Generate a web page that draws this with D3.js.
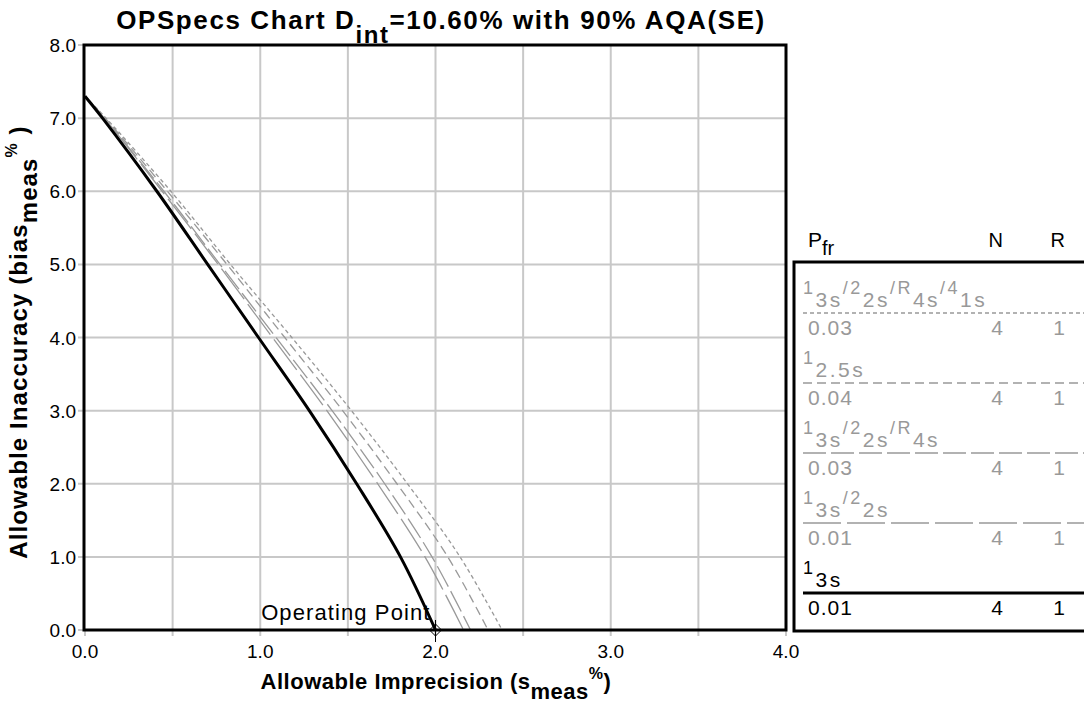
<!DOCTYPE html>
<html><head><meta charset="utf-8">
<script src="https://cdn.jsdelivr.net/npm/d3@7"></script>
<style>
html,body{margin:0;padding:0;background:#fff;}
svg{display:block;font-family:"Liberation Sans",Arial,sans-serif;}
</style></head>
<body><svg id="c" width="1084" height="707"></svg>
<script>
// ---------- data ----------
const biasLevels = [7.3, 7, 6, 5, 4, 3, 2, 1, 0];          // y values (bias %)
const rules = ["1_3s/2_2s/R_4s/4_1s", "1_2.5s", "1_3s/2_2s/R_4s", "1_3s/2_2s", "1_3s"];
const pfr = ["0.03", "0.04", "0.03", "0.01", "0.01"];
const nVals = [4, 4, 4, 4, 4];
const rVals = [1, 1, 1, 1, 1];
// allowable imprecision (s %) at each bias level, per rule
const s_13s22sR4s41s = [0, 0.12, 0.49, 0.83, 1.18, 1.52, 1.84, 2.14, 2.38];
const s_125s         = [0, 0.115, 0.47, 0.81, 1.14, 1.47, 1.78, 2.07, 2.30];
const s_13s22sR4s    = [0, 0.11, 0.45, 0.77, 1.09, 1.41, 1.71, 1.98, 2.20];
const s_13s22s       = [0, 0.11, 0.44, 0.76, 1.07, 1.38, 1.67, 1.94, 2.16];
const s_13s          = [0, 0.10, 0.41, 0.70, 0.99, 1.28, 1.55, 1.80, 2.00];
const seriesS = [s_13s22sR4s41s, s_125s, s_13s22sR4s, s_13s22s, s_13s];
const xTicks = [0, 1, 2, 3, 4];
const xTickLabels = ["0.0", "1.0", "2.0", "3.0", "4.0"];
const xGrid = [0.5, 1, 1.5, 2, 2.5, 3, 3.5];
const yTicks = [0, 1, 2, 3, 4, 5, 6, 7, 8];
const yTickLabels = ["0.0", "1.0", "2.0", "3.0", "4.0", "5.0", "6.0", "7.0", "8.0"];
const operatingPoint = [2.0, 0.0];

// ---------- styles ----------
const dashes = ["4,3", "9,5", "23,5", "38,6", null];
const colors = ["#999", "#999", "#999", "#999", "#000"];
const widths = [1.3, 1.3, 1.3, 1.3, 3];

const svg = d3.select("#c");
const L = 85, R = 786, T = 45, B = 630;
const x = d3.scaleLinear().domain([0, 4]).range([L, R]);
const y = d3.scaleLinear().domain([0, 8]).range([B, T]);

// grid
svg.append("g").selectAll("line").data(xGrid).join("line")
  .attr("x1", d => x(d)).attr("x2", d => x(d)).attr("y1", T).attr("y2", B + 6)
  .attr("stroke", "#c8c8c8").attr("stroke-width", 2);
svg.append("g").selectAll("line").data(yTicks.slice(1, 8)).join("line")
  .attr("x1", L - 7).attr("x2", R).attr("y1", d => y(d)).attr("y2", d => y(d))
  .attr("stroke", "#c8c8c8").attr("stroke-width", 2);
svg.append("g").selectAll("line").data([0, 4]).join("line")
  .attr("x1", d => x(d)).attr("x2", d => x(d)).attr("y1", B).attr("y2", B + 6)
  .attr("stroke", "#c8c8c8").attr("stroke-width", 2);
svg.append("g").selectAll("line").data([0, 8]).join("line")
  .attr("x1", L - 7).attr("x2", L).attr("y1", d => y(d)).attr("y2", d => y(d))
  .attr("stroke", "#c8c8c8").attr("stroke-width", 2);

// tick labels
svg.append("g").selectAll("text").data(xTicks).join("text")
  .attr("x", d => x(d)).attr("y", B + 28).attr("text-anchor", "middle")
  .attr("font-size", 19).attr("fill", "#000").text((d, i) => xTickLabels[i]);
svg.append("g").selectAll("text").data(yTicks).join("text")
  .attr("x", L - 9).attr("y", d => y(d) + 7).attr("text-anchor", "end")
  .attr("font-size", 19).attr("fill", "#000").text((d, i) => yTickLabels[i]);

// curves
const line = d3.line().x(d => x(d[0])).y(d => y(d[1])).curve(d3.curveCatmullRom);
seriesS.forEach((s, i) => {
  const pts = s.map((v, j) => [v, biasLevels[j]]);
  svg.append("path").attr("d", line(pts)).attr("fill", "none")
    .attr("stroke", colors[i]).attr("stroke-width", widths[i])
    .attr("stroke-dasharray", dashes[i]);
});

// frame
svg.append("rect").attr("x", L - 1).attr("y", T).attr("width", R - L + 1).attr("height", B - T)
  .attr("fill", "none").attr("stroke", "#000").attr("stroke-width", 3);

// operating point
const ox = x(operatingPoint[0]), oy = y(operatingPoint[1]);
svg.append("path").attr("d", `M${ox},${oy-6}L${ox+6},${oy}L${ox},${oy+6}L${ox-6},${oy}Z`)
  .attr("fill", "none").attr("stroke", "#000").attr("stroke-width", 1);
svg.append("line").attr("x1", ox).attr("x2", ox).attr("y1", oy - 10).attr("y2", oy + 12)
  .attr("stroke", "#000").attr("stroke-width", 1);
svg.append("text").attr("x", ox - 5).attr("y", oy - 10).attr("text-anchor", "end")
  .attr("font-size", 22).attr("letter-spacing", 1.1).text("Operating Point");

// title
const title = svg.append("text").attr("x", 441).attr("y", 29).attr("text-anchor", "middle")
  .attr("font-size", 26).attr("font-weight", "bold").attr("letter-spacing", 1.6);
title.append("tspan").text("OPSpecs Chart D");
title.append("tspan").attr("dy", 14).attr("font-size", 24).text("int");
title.append("tspan").attr("dy", -14).text("=10.60% with 90% AQA(SE)");

// x-axis title
const xt = svg.append("text").attr("x", 436).attr("y", 689).attr("text-anchor", "middle")
  .attr("font-size", 22).attr("font-weight", "bold").attr("letter-spacing", 0.5);
xt.append("tspan").text("Allowable Imprecision (s");
xt.append("tspan").attr("dy", 10).text("meas");
xt.append("tspan").attr("dy", -20).attr("font-size", 16).text("%");
xt.append("tspan").attr("dy", 10).text(")");

// y-axis title
const yt = svg.append("text").attr("transform", "translate(27,342) rotate(-90)")
  .attr("text-anchor", "middle").attr("font-size", 24).attr("font-weight", "bold")
  .attr("letter-spacing", 1.1);
yt.append("tspan").text("Allowable Inaccuracy (bias");
yt.append("tspan").attr("dy", 10).text("meas");
yt.append("tspan").attr("dy", -20).attr("font-size", 16).text("%");
yt.append("tspan").attr("dy", 10).text(" )");

// legend
const LX = 794, LT = 262, LB = 631;
svg.append("rect").attr("x", LX).attr("y", LT).attr("width", 400).attr("height", LB - LT)
  .attr("fill", "none").attr("stroke", "#000").attr("stroke-width", 3);
const nRight = 1003, rRight = 1065;
const hdr = svg.append("text").attr("x", 808).attr("y", 247).attr("font-size", 21);
hdr.append("tspan").text("P");
hdr.append("tspan").attr("dy", 8).attr("font-size", 20).text("fr");
svg.append("text").attr("x", nRight).attr("y", 247).attr("text-anchor", "end").attr("font-size", 20).text("N");
svg.append("text").attr("x", rRight).attr("y", 247).attr("text-anchor", "end").attr("font-size", 20).text("R");

rules.forEach((rule, i) => {
  const ly = 313 + 70 * i;
  const col = colors[i] === "#000" ? "#000" : "#999";
  const t = svg.append("text").attr("x", 803).attr("y", ly - 19).attr("fill", col)
    .attr("letter-spacing", 2.5);
  const parts = rule.split("/");
  parts.forEach((p, k) => {
    const [a, b] = p.split("_");
    t.append("tspan").attr("dy", k > 0 ? -13 : 0).attr("font-size", 18).text((k > 0 ? "/" : "") + a);
    t.append("tspan").attr("dy", 13).attr("font-size", 21).text(b);
  });
  svg.append("line").attr("x1", 803).attr("x2", 1084).attr("y1", ly).attr("y2", ly)
    .attr("stroke", colors[i]).attr("stroke-width", i === 4 ? 3 : 1.5)
    .attr("stroke-dasharray", dashes[i]);
  const vals = [[808, "start", pfr[i]], [nRight, "end", nVals[i]], [rRight, "end", rVals[i]]];
  vals.forEach(([vx, anc, txt]) => {
    svg.append("text").attr("x", vx).attr("y", ly + 22).attr("text-anchor", anc)
      .attr("font-size", 21).attr("letter-spacing", anc === "start" ? 1 : 0)
      .attr("fill", col).text(txt);
  });
});
</script></body></html>
